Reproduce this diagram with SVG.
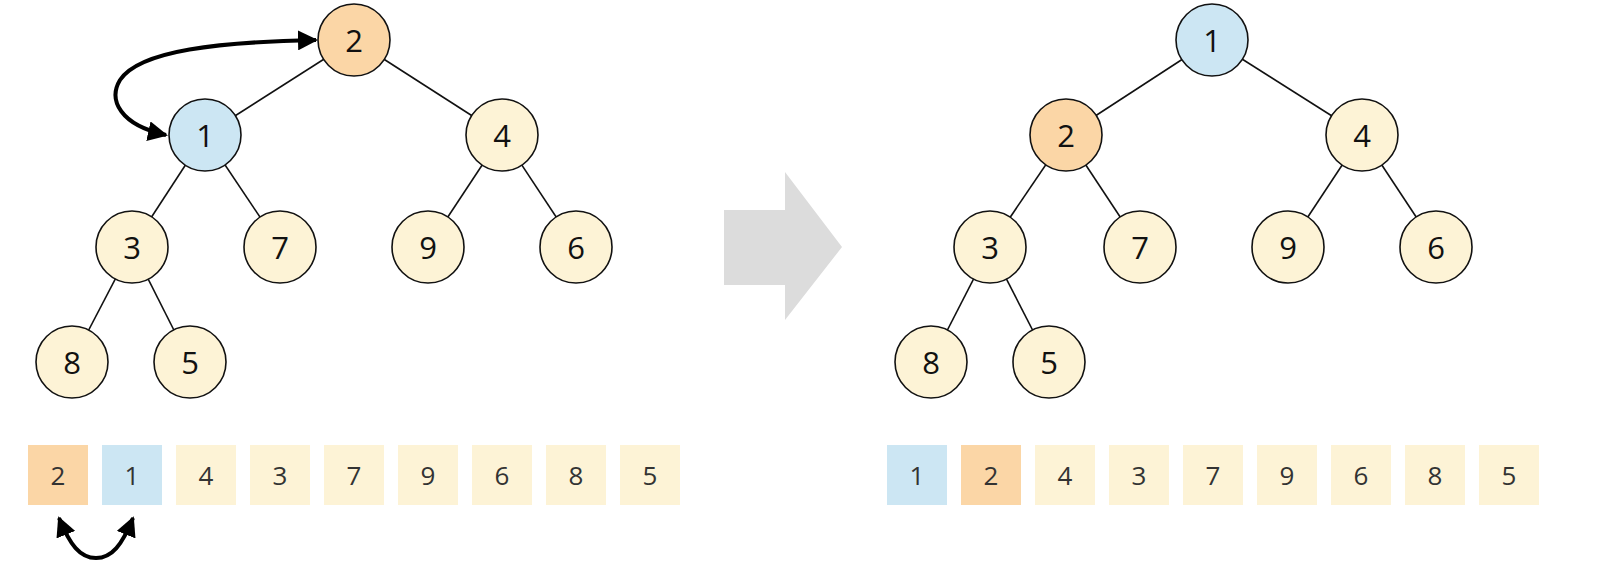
<svg xmlns="http://www.w3.org/2000/svg" width="1600" height="568" viewBox="0 0 1600 568">
<style>
.n circle{stroke:#111;stroke-width:1.6}
.y{fill:#fdf3d6}.o{fill:#fbd6a6}.b{fill:#cce6f3}
.n text{font-family:"Open Sans",sans-serif;font-size:31px;fill:#111;text-anchor:middle;dominant-baseline:central}
.a text{font-family:"Open Sans",sans-serif;font-size:26px;fill:#333;text-anchor:middle;dominant-baseline:central}
.e line{stroke:#111;stroke-width:1.6}
.c{fill:none;stroke:#000;stroke-width:4}
</style>
<defs><marker id="h" viewBox="0 0 10 10" refX="9" refY="5" markerWidth="5" markerHeight="5" orient="auto-start-reverse" markerUnits="strokeWidth"><path d="M0,0L10,5L0,10z" fill="#000"/></marker></defs>
<g id="edges" class="e">
<line x1="354" y1="40" x2="205" y2="135"/><line x1="354" y1="40" x2="502" y2="135"/>
<line x1="205" y1="135" x2="132" y2="247"/><line x1="205" y1="135" x2="280" y2="247"/>
<line x1="502" y1="135" x2="428" y2="247"/><line x1="502" y1="135" x2="576" y2="247"/>
<line x1="132" y1="247" x2="72" y2="362"/><line x1="132" y1="247" x2="190" y2="362"/>
<line x1="1212" y1="40" x2="1066" y2="135"/><line x1="1212" y1="40" x2="1362" y2="135"/>
<line x1="1066" y1="135" x2="990" y2="247"/><line x1="1066" y1="135" x2="1140" y2="247"/>
<line x1="1362" y1="135" x2="1288" y2="247"/><line x1="1362" y1="135" x2="1436" y2="247"/>
<line x1="990" y1="247" x2="931" y2="362"/><line x1="990" y1="247" x2="1049" y2="362"/>
</g>
<g id="swaps">
<path class="c" marker-start="url(#h)" marker-end="url(#h)" d="M166,135 C120,125 108,100 120,80 C140,50 220,42 316,40"/>
<path class="c" marker-start="url(#h)" marker-end="url(#h)" d="M59,518 C70,545 80,558 96,558 C112,558 122,545 133,518"/>
</g>
<g class="n">
<g id="L2"><circle class="o" cx="354" cy="40" r="36"/><text x="354" y="40">2</text></g>
<g id="L1"><circle class="b" cx="205" cy="135" r="36"/><text x="205" y="135">1</text></g>
<g id="L4"><circle class="y" cx="502" cy="135" r="36"/><text x="502" y="135">4</text></g>
<g id="L3"><circle class="y" cx="132" cy="247" r="36"/><text x="132" y="247">3</text></g>
<g id="L7"><circle class="y" cx="280" cy="247" r="36"/><text x="280" y="247">7</text></g>
<g id="L9"><circle class="y" cx="428" cy="247" r="36"/><text x="428" y="247">9</text></g>
<g id="L6"><circle class="y" cx="576" cy="247" r="36"/><text x="576" y="247">6</text></g>
<g id="L8"><circle class="y" cx="72" cy="362" r="36"/><text x="72" y="362">8</text></g>
<g id="L5"><circle class="y" cx="190" cy="362" r="36"/><text x="190" y="362">5</text></g>
<g id="R1"><circle class="b" cx="1212" cy="40" r="36"/><text x="1212" y="40">1</text></g>
<g id="R2"><circle class="o" cx="1066" cy="135" r="36"/><text x="1066" y="135">2</text></g>
<g id="R4"><circle class="y" cx="1362" cy="135" r="36"/><text x="1362" y="135">4</text></g>
<g id="R3"><circle class="y" cx="990" cy="247" r="36"/><text x="990" y="247">3</text></g>
<g id="R7"><circle class="y" cx="1140" cy="247" r="36"/><text x="1140" y="247">7</text></g>
<g id="R9"><circle class="y" cx="1288" cy="247" r="36"/><text x="1288" y="247">9</text></g>
<g id="R6"><circle class="y" cx="1436" cy="247" r="36"/><text x="1436" y="247">6</text></g>
<g id="R8"><circle class="y" cx="931" cy="362" r="36"/><text x="931" y="362">8</text></g>
<g id="R5"><circle class="y" cx="1049" cy="362" r="36"/><text x="1049" y="362">5</text></g>
</g>
<path id="bigarrow" d="M724,210H785V172L842,247L785,320V285H724z" fill="#dcdcdc"/>
<g class="a" id="arrL">
<rect class="o" x="28" y="445" width="60" height="60"/><text x="58" y="475">2</text>
<rect class="b" x="102" y="445" width="60" height="60"/><text x="132" y="475">1</text>
<rect class="y" x="176" y="445" width="60" height="60"/><text x="206" y="475">4</text>
<rect class="y" x="250" y="445" width="60" height="60"/><text x="280" y="475">3</text>
<rect class="y" x="324" y="445" width="60" height="60"/><text x="354" y="475">7</text>
<rect class="y" x="398" y="445" width="60" height="60"/><text x="428" y="475">9</text>
<rect class="y" x="472" y="445" width="60" height="60"/><text x="502" y="475">6</text>
<rect class="y" x="546" y="445" width="60" height="60"/><text x="576" y="475">8</text>
<rect class="y" x="620" y="445" width="60" height="60"/><text x="650" y="475">5</text>
</g>
<g class="a" id="arrR">
<rect class="b" x="887" y="445" width="60" height="60"/><text x="917" y="475">1</text>
<rect class="o" x="961" y="445" width="60" height="60"/><text x="991" y="475">2</text>
<rect class="y" x="1035" y="445" width="60" height="60"/><text x="1065" y="475">4</text>
<rect class="y" x="1109" y="445" width="60" height="60"/><text x="1139" y="475">3</text>
<rect class="y" x="1183" y="445" width="60" height="60"/><text x="1213" y="475">7</text>
<rect class="y" x="1257" y="445" width="60" height="60"/><text x="1287" y="475">9</text>
<rect class="y" x="1331" y="445" width="60" height="60"/><text x="1361" y="475">6</text>
<rect class="y" x="1405" y="445" width="60" height="60"/><text x="1435" y="475">8</text>
<rect class="y" x="1479" y="445" width="60" height="60"/><text x="1509" y="475">5</text>
</g>
</svg>
